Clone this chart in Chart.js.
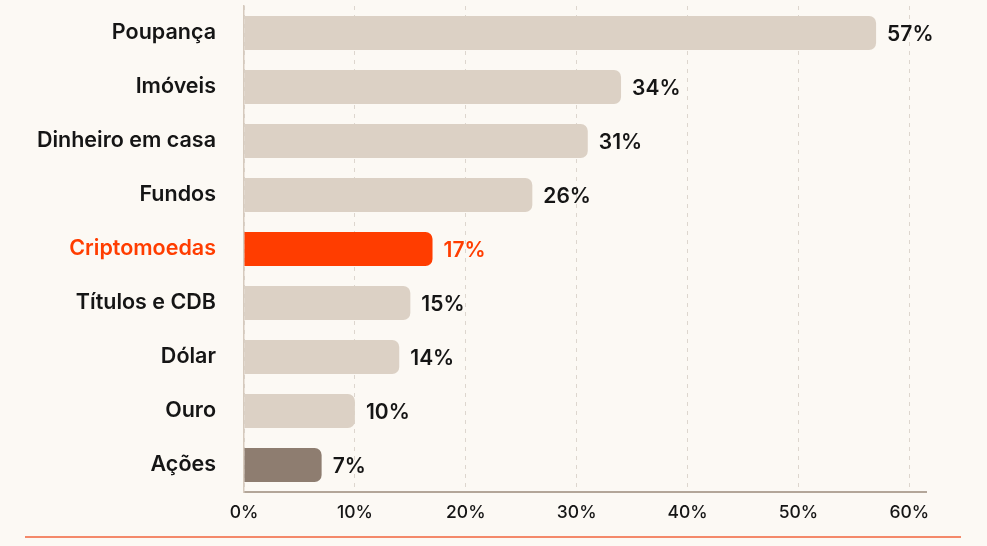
<!DOCTYPE html>
<html>
<head>
<meta charset="utf-8">
<script src="https://cdn.jsdelivr.net/npm/chart.js@4.4.1/dist/chart.umd.min.js"></script>
<style>
	html, body { margin: 0; padding: 0; background: #FCF9F4; }
	#wrap { position: relative; width: 987px; height: 546px; }
	#bottomLine { position: absolute; left: 25px; right: 26px; top: 536px; height: 2px; background: #F4896A; }
</style>
</head>
<body>
<div id="wrap">
	<canvas id="investChart" width="987" height="546"></canvas>
	<div id="bottomLine"></div>
</div>
<script>
// categorias e valores (%)
var categorias = ['Poupança', 'Imóveis', 'Dinheiro em casa', 'Fundos', 'Criptomoedas', 'Títulos e CDB', 'Dólar', 'Ouro', 'Ações'];
var valores = [57, 34, 31, 26, 17, 15, 14, 10, 7];
var ticksX = [0, 10, 20, 30, 40, 50, 60];

var corPadrao = '#DCD1C5';
var corDestaque = '#FF3D00';
var corAcoes = '#8E7D70';

var cores = categorias.map(function(c) {
	if (c === 'Criptomoedas') return corDestaque;
	if (c === 'Ações') return corAcoes;
	return corPadrao;
});

// rótulos de valor no fim das barras
var valueLabels = {
	id: 'valueLabels',
	afterDatasetsDraw: function(chart) {
		var ctx = chart.ctx;
		var meta = chart.getDatasetMeta(0);
		ctx.save();
		ctx.font = '600 21px Inter';
		ctx.textBaseline = 'middle';
		ctx.textAlign = 'left';
		meta.data.forEach(function(bar, i) {
			ctx.fillStyle = categorias[i] === 'Criptomoedas' ? corDestaque : '#151515';
			ctx.fillText(valores[i] + '%', bar.x + 11, bar.y + 2);
		});
		ctx.restore();
	}
};

var chartArea = document.getElementById('investChart').getContext('2d');
var myChart = new Chart(chartArea, {
	type: 'bar',
	data: {
		labels: categorias,
		datasets: [{
			data: valores,
			backgroundColor: cores,
			borderRadius: 7,
			borderSkipped: 'start',
			barPercentage: 0.9,
			categoryPercentage: 0.7
		}]
	},
	options: {
		indexAxis: 'y',
		responsive: false,
		animation: false,
		layout: { padding: { top: 6, right: 61, left: 0, bottom: 0 } },
		plugins: {
			legend: { display: false },
			tooltip: { enabled: false }
		},
		scales: {
			x: {
				min: 0,
				max: 61.5,
				afterFit: function(scale) { scale.height = 54; },
				afterBuildTicks: function(scale) {
					scale.ticks = ticksX.map(function(v) { return { value: v }; });
				},
				ticks: {
					includeBounds: false,
					padding: 10,
					color: '#151515',
					font: { family: 'Inter', size: 17.5, weight: '500' },
					callback: function(v) { return v + '%'; }
				},
				grid: {
					color: '#DDD6CE',
					lineWidth: 1,
					drawTicks: false,
					tickBorderDash: [4, 4]
				},
				border: { display: true, color: '#B3A699', width: 2, dash: [4, 5] }
			},
			y: {
				afterFit: function(scale) {
					scale.width = 244;
					scale.paddingTop = 0;
					scale.paddingBottom = 0;
				},
				ticks: {
					padding: 28,
					color: function(c) {
						return categorias[c.index] === 'Criptomoedas' ? corDestaque : '#151515';
					},
					font: { family: 'Inter', size: 21.5, weight: '600' }
				},
				grid: { display: false, drawTicks: false },
				border: { display: true, color: '#D6CABD', width: 1.5 }
			}
		}
	},
	plugins: [valueLabels]
});
</script>
</body>
</html>
